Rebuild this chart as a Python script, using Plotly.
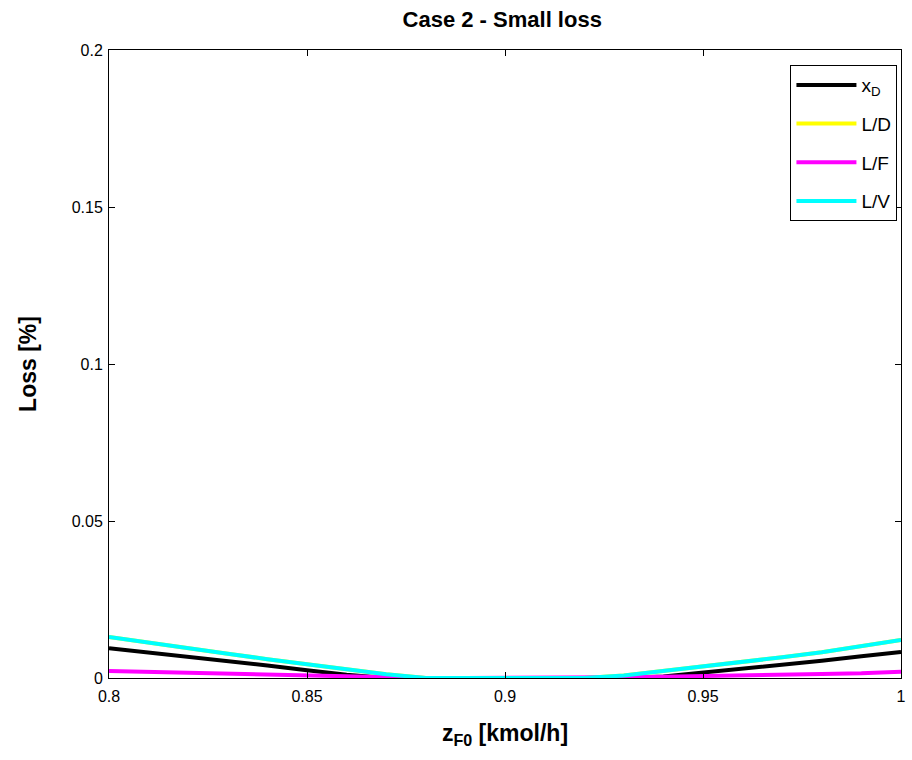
import plotly.graph_objects as go

z_f0 = [0.80, 0.81, 0.82, 0.83, 0.84, 0.85, 0.86, 0.87, 0.88, 0.89, 0.90,
        0.91, 0.92, 0.93, 0.94, 0.95, 0.96, 0.97, 0.98, 0.99, 1.00]
loss_xd = [0.0095, 0.0082, 0.0069, 0.0055, 0.0040, 0.0025, 0.0010, 0.0, 0.0, 0.0, 0.0,
           0.0, 0.0, 0.0, 0.0005, 0.0017, 0.0029, 0.0042, 0.0055, 0.0069, 0.0083]
loss_ld = [0.0131, 0.0112, 0.0094, 0.0077, 0.0060, 0.0044, 0.0028, 0.0012, 0.0, 0.0, 0.0,
           0.0, 0.0, 0.0008, 0.0022, 0.0036, 0.0051, 0.0066, 0.0082, 0.0100, 0.0121]
loss_lf = [0.0022, 0.0019, 0.0016, 0.0013, 0.0010, 0.0007, 0.0004, 0.0002, 0.0, 0.0, 0.0,
           0.0, 0.0, 0.0002, 0.0004, 0.0007, 0.0010, 0.0012, 0.0013, 0.0015, 0.0020]
loss_lv = [0.0131, 0.0112, 0.0094, 0.0077, 0.0060, 0.0044, 0.0028, 0.0012, 0.0, 0.0, 0.0,
           0.0, 0.0, 0.0008, 0.0022, 0.0036, 0.0051, 0.0066, 0.0082, 0.0100, 0.0121]

series = [
    ("x<sub>D</sub>", loss_xd, "#000000"),
    ("L/D", loss_ld, "#FFFF00"),
    ("L/F", loss_lf, "#FF00FF"),
    ("L/V", loss_lv, "#00FFFF"),
]

x_ticks = [0.8, 0.85, 0.9, 0.95, 1.0]
x_tick_labels = ["0.8", "0.85", "0.9", "0.95", "1"]
y_ticks = [0, 0.05, 0.1, 0.15, 0.2]
y_tick_labels = ["0", "0.05", "0.1", "0.15", "0.2"]

fig = go.Figure()
for i, (name, vals, color) in enumerate(series):
    fig.add_trace(go.Scatter(
        x=z_f0, y=vals, mode="lines", name=name, legendgroup=str(i),
        line=dict(color=color, width=4), cliponaxis=True,
    ))

font = "Liberation Sans, Arial, sans-serif"
fig.update_layout(
    width=912, height=760,
    margin=dict(l=109, r=6, t=50, b=82),
    paper_bgcolor="white", plot_bgcolor="white",
    font=dict(family=font, size=16, color="black"),
    title=dict(text="<b>Case 2 - Small loss</b>", x=0.5507, xanchor="center",
               y=0.974, yanchor="middle", font=dict(size=22, family=font)),
    showlegend=True,
    legend=dict(x=0.9955, xanchor="right", y=0.976, yanchor="top",
                bgcolor="white", bordercolor="black", borderwidth=1,
                font=dict(size=19, family=font), tracegroupgap=11,
                itemwidth=60),
    xaxis=dict(range=[0.8, 1.0], tickvals=x_ticks, ticktext=x_tick_labels,
               ticks="inside", ticklen=6, tickcolor="black", mirror="ticks",
               showline=True, linecolor="black", linewidth=1, showgrid=False,
               zeroline=False, tickfont=dict(size=16), ticklabelstandoff=4,
               title=dict(text="<b>z<sub>F0</sub> [kmol/h]</b>", font=dict(size=23), standoff=20)),
    yaxis=dict(range=[0, 0.2], tickvals=y_ticks, ticktext=y_tick_labels,
               ticks="inside", ticklen=6, tickcolor="black", mirror="ticks",
               showline=True, linecolor="black", linewidth=1, showgrid=False,
               zeroline=False, tickfont=dict(size=16), ticklabelstandoff=2,
               title=dict(text="<b>Loss [%]</b>", font=dict(size=23), standoff=28)),
)

fig.write_html("out.html")
